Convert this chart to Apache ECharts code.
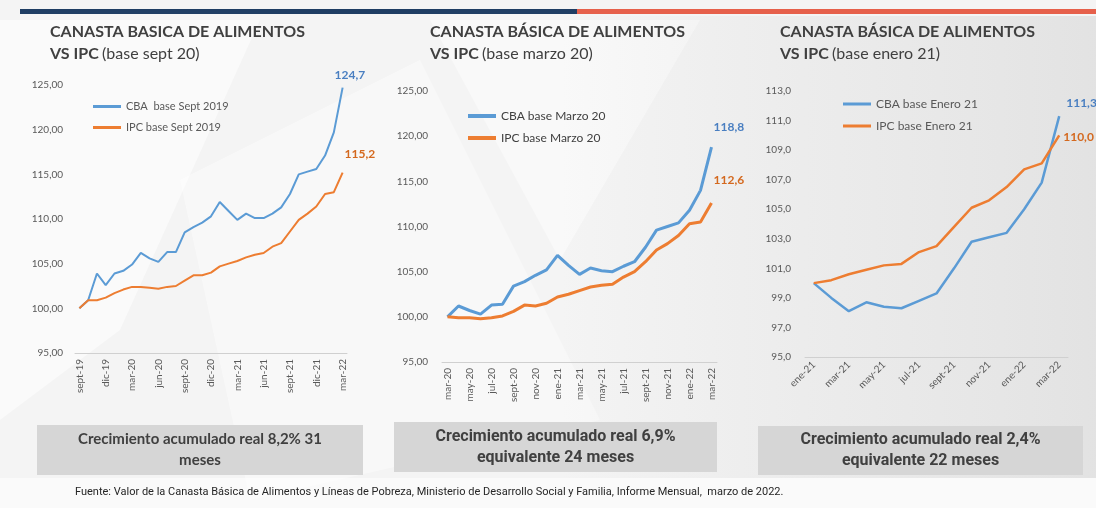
<!DOCTYPE html>
<html lang="es">
<head>
<meta charset="UTF-8">
<title>Canasta Básica vs IPC</title>
<script src="https://cdn.jsdelivr.net/npm/echarts@6/dist/echarts.min.js"></script>
<style>
    html, body { margin: 0; padding: 0; background: #f3f3f3; }
    #chart { width: 1096px; height: 508px; }
</style>
</head>
<body>
<div id="chart"></div>
<script>
    // base sept 2019
    const cats1 = ['sept-19', 'oct-19', 'nov-19', 'dic-19', 'ene-20', 'feb-20', 'mar-20', 'abr-20', 'may-20', 'jun-20',
        'jul-20', 'ago-20', 'sept-20', 'oct-20', 'nov-20', 'dic-20', 'ene-21', 'feb-21', 'mar-21', 'abr-21', 'may-21',
        'jun-21', 'jul-21', 'ago-21', 'sept-21', 'oct-21', 'nov-21', 'dic-21', 'ene-22', 'feb-22', 'mar-22'];
    const cba1 = [100.0, 100.9, 103.9, 102.6, 103.9, 104.2, 104.9, 106.2, 105.6, 105.2, 106.3, 106.3, 108.5, 109.1, 109.6,
        110.3, 111.9, 110.9, 109.9, 110.6, 110.1, 110.1, 110.6, 111.3, 112.8, 115.0, 115.3, 115.6, 117.1, 119.7, 124.7];
    const ipc1 = [100.0, 100.9, 100.9, 101.2, 101.7, 102.1, 102.4, 102.4, 102.3, 102.2, 102.4, 102.5, 103.1, 103.7, 103.7,
        104.0, 104.7, 105.0, 105.3, 105.7, 106.0, 106.2, 106.9, 107.3, 108.6, 109.9, 110.6, 111.4, 112.8, 113.0, 115.2];

    // base marzo 2020
    const cats2 = ['mar-20', 'abr-20', 'may-20', 'jun-20', 'jul-20', 'ago-20', 'sept-20', 'oct-20', 'nov-20', 'dic-20',
        'ene-21', 'feb-21', 'mar-21', 'abr-21', 'may-21', 'jun-21', 'jul-21', 'ago-21', 'sept-21', 'oct-21', 'nov-21',
        'dic-21', 'ene-22', 'feb-22', 'mar-22'];
    const cba2 = [100.0, 101.2, 100.7, 100.3, 101.3, 101.4, 103.4, 103.9, 104.6, 105.2, 106.8, 105.7, 104.7, 105.4, 105.1,
        105.0, 105.6, 106.1, 107.7, 109.6, 110.0, 110.4, 111.8, 114.0, 118.8];
    const ipc2 = [100.0, 99.9, 99.9, 99.8, 99.9, 100.1, 100.6, 101.3, 101.2, 101.5, 102.2, 102.5, 102.9, 103.3, 103.5,
        103.6, 104.4, 105.0, 106.1, 107.4, 108.1, 109.0, 110.3, 110.5, 112.6];

    // base enero 2021
    const cats3 = ['ene-21', 'feb-21', 'mar-21', 'abr-21', 'may-21', 'jun-21', 'jul-21', 'ago-21', 'sept-21', 'oct-21',
        'nov-21', 'dic-21', 'ene-22', 'feb-22', 'mar-22'];
    const cba3 = [100.0, 99.0, 98.1, 98.7, 98.4, 98.3, 98.8, 99.3, 101.0, 102.8, 103.1, 103.4, 105.0, 106.8, 111.3];
    const ipc3 = [100.0, 100.2, 100.6, 100.9, 101.2, 101.3, 102.1, 102.5, 103.8, 105.1, 105.6, 106.5, 107.7, 108.1, 110.0];

    const BLUE = '#5b9bd5';
    const ORANGE = '#ed7d31';
    const FONT = 'Lato, "Open Sans", sans-serif';
    const NARROW = '"Liberation Sans Narrow", Roboto, sans-serif';

    let chart = echarts.init(document.getElementById('chart'));

    function comma(v, d) {
        return v.toFixed(d).replace('.', ',');
    }

    function xAxis(idx, cats, interval, rotate) {
        return {
            type: 'category', gridIndex: idx, data: cats, boundaryGap: true,
            axisLine: {lineStyle: {color: '#d0d0d0', width: 1}},
            axisTick: {show: false},
            axisLabel: {interval: interval, rotate: rotate, margin: 6, color: '#595959', fontSize: 10, fontFamily: FONT}
        };
    }

    function yAxis(idx, min, max, step, dec, margin) {
        return {
            type: 'value', gridIndex: idx, min: min, max: max, interval: step,
            axisLine: {show: false}, axisTick: {show: false}, splitLine: {show: false},
            axisLabel: {margin: margin, color: '#595959', fontSize: 10, fontFamily: FONT, formatter: v => comma(v, dec)}
        };
    }

    function line(name, idx, data, color, width, labelColor, offset) {
        return {
            name: name, type: 'line', xAxisIndex: idx, yAxisIndex: idx,
            data: data, symbol: 'none', smooth: false,
            lineStyle: {color: color, width: width}, itemStyle: {color: color},
            endLabel: {
                show: true, distance: 5, offset: offset,
                color: labelColor, fontWeight: 'bold', fontSize: 12, fontFamily: FONT,
                formatter: p => comma(p.value, 1)
            },
            z: 3
        };
    }

    function legend(left, top, names, fontSize, color, iconH) {
        return {
            left: left, top: top, orient: 'vertical', itemGap: 10, itemWidth: 28, itemHeight: iconH,
            icon: 'rect', data: names,
            textStyle: {fontSize: fontSize, color: color, fontFamily: FONT}
        };
    }

    function title(x, line1, line2, font) {
        return [{
            type: 'text', left: x, top: 24, z: 10,
            style: {text: line1, font: 'bold 16px ' + font, fill: '#404040'}
        }, {
            type: 'text', left: x, top: 46, z: 10,
            style: {
                text: '{b|VS IPC} {n|' + line2 + '}',
                rich: {
                    b: {font: 'bold 16px ' + font, fill: '#404040', color: '#404040'},
                    n: {font: '16px ' + font, fill: '#404040', color: '#404040'}
                }
            }
        }];
    }

    function box(x, y, w, h, text, font) {
        return [{
            type: 'rect', shape: {x: x, y: y, width: w, height: h}, style: {fill: '#d6d6d6'}, z: 1
        }, {
            type: 'text', x: x + w / 2, y: y + h / 2, z: 2,
            style: {
                text: text, font: font, fill: '#404040', lineHeight: 21,
                textAlign: 'center', textVerticalAlign: 'middle', align: 'center', verticalAlign: 'middle'
            }
        }];
    }

    const background = [
        {type: 'rect', shape: {x: 0, y: 0, width: 1096, height: 508}, style: {fill: '#f4f4f4'}, z: -10},
        {type: 'polygon', shape: {points: [[0, 20], [260, 20], [120, 330], [0, 420]]}, style: {fill: 'rgba(255,255,255,0.5)'}, z: -9},
        {type: 'polygon', shape: {points: [[180, 180], [420, 60], [600, 420], [250, 500]]}, style: {fill: 'rgba(255,255,255,0.4)'}, z: -9},
        {type: 'polygon', shape: {points: [[430, 20], [700, 20], [560, 260]]}, style: {fill: 'rgba(255,255,255,0.45)'}, z: -9},
        {type: 'polygon', shape: {points: [[0, 478], [1096, 478], [1096, 508], [0, 508]]}, style: {fill: 'rgba(255,255,255,0.55)'}, z: -9},
        {
            type: 'rect', shape: {x: 560, y: 16, width: 536, height: 462}, z: -8,
            style: {
                fill: new echarts.graphic.LinearGradient(0, 0, 1, 0, [
                    {offset: 0, color: 'rgba(200,200,200,0)'},
                    {offset: 0.45, color: 'rgba(200,200,200,0.18)'},
                    {offset: 1, color: 'rgba(190,190,190,0.32)'}
                ])
            }
        },
        {type: 'rect', shape: {x: 20, y: 9, width: 557, height: 5}, style: {fill: '#1f3d63'}, z: 5},
        {type: 'rect', shape: {x: 577, y: 9, width: 519, height: 5}, style: {fill: '#e6604b'}, z: 5}
    ];

    chart.setOption({
        animation: false,
        grid: [
            {left: 75, top: 85, width: 272, height: 268},
            {left: 442, top: 91, width: 275, height: 271},
            {left: 805, top: 91, width: 263, height: 266}
        ],
        xAxis: [
            xAxis(0, cats1, 2, 90),
            xAxis(1, cats2, 1, 90),
            xAxis(2, cats3, 1, 45)
        ],
        yAxis: [
            yAxis(0, 95, 125, 5, 2, 12),
            yAxis(1, 95, 125, 5, 2, 14),
            yAxis(2, 95, 113, 2, 1, 14)
        ],
        legend: [
            legend(88, 96, ['CBA  base Sept 2019', 'IPC base Sept 2019'], 11, '#595959', 3),
            legend(463, 105, ['CBA base Marzo 20', 'IPC base Marzo 20'], 12, '#404040', 4),
            legend(838, 93, ['CBA base Enero 21', 'IPC base Enero 21'], 12, '#595959', 3)
        ],
        series: [
            line('CBA  base Sept 2019', 0, cba1, BLUE, 2, '#4a7fc1', [-13, -13]),
            line('IPC base Sept 2019', 0, ipc1, ORANGE, 2, '#d4691f', [-3, -18]),
            line('CBA base Marzo 20', 1, cba2, BLUE, 3, '#4a7fc1', [-3, -20]),
            line('IPC base Marzo 20', 1, ipc2, ORANGE, 3, '#d4691f', [-3, -23]),
            line('CBA base Enero 21', 2, cba3, BLUE, 2.5, '#4a7fc1', [2, -13]),
            line('IPC base Enero 21', 2, ipc3, ORANGE, 2.5, '#d4691f', [-1, 2])
        ],
        graphic: [].concat(
            background,
            title(50, 'CANASTA BASICA DE ALIMENTOS', '(base sept 20)', FONT),
            title(430, 'CANASTA BÁSICA DE ALIMENTOS', '(base marzo 20)', FONT),
            title(780, 'CANASTA BÁSICA DE ALIMENTOS', '(base enero 21)', FONT),
            box(37, 425, 326, 50, 'Crecimiento acumulado real 8,2% 31\nmeses', 'bold 15px ' + FONT),
            box(394, 422, 323, 50, 'Crecimiento acumulado real 6,9%\nequivalente 24 meses', 'bold 16px ' + NARROW),
            box(758, 426, 325, 49, 'Crecimiento acumulado real 2,4%\nequivalente 22 meses', 'bold 16px ' + NARROW),
            [{
                type: 'text', left: 75, top: 487, z: 10,
                style: {
                    text: 'Fuente: Valor de la Canasta Básica de Alimentos y Líneas de Pobreza, Ministerio de Desarrollo Social y Familia, Informe Mensual,  marzo de 2022.',
                    font: '11px ' + NARROW, fill: '#262626'
                }
            }]
        )
    });
</script>
</body>
</html>
